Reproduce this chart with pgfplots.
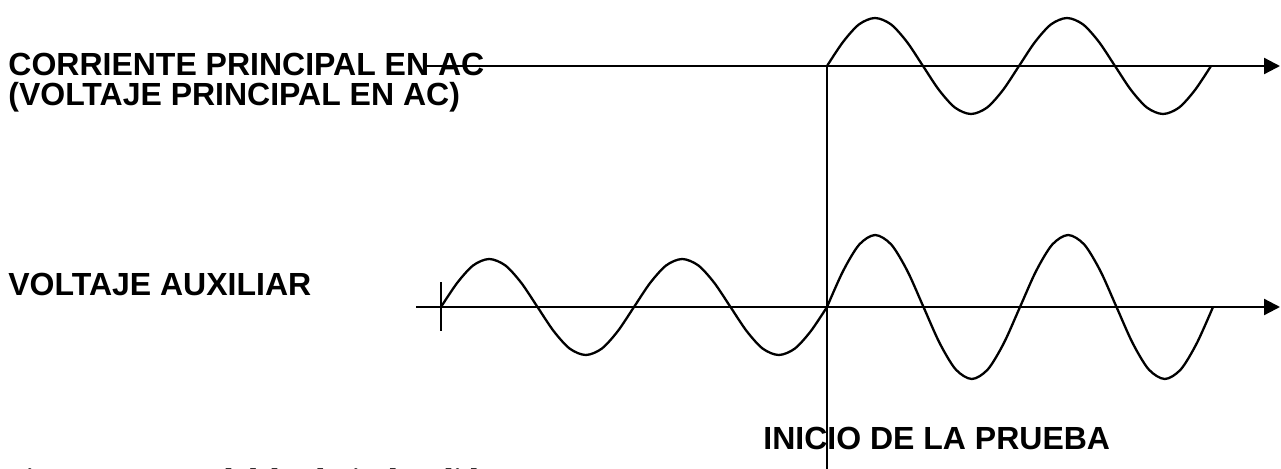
\documentclass[border=0pt]{standalone}
\usepackage{pgfplots}
\pgfplotsset{compat=1.18}
\usetikzlibrary{arrows.meta}
\usepackage{fontspec}
\setmainfont{Liberation Serif}
\setsansfont{Liberation Sans}

% one pixel of the reference = 0.5pt
\begin{document}
\begin{tikzpicture}
\begin{axis}[
    name=ax,
    scale only axis,
    width=640.5pt, height=234pt,
    xmin=0, xmax=1281, ymin=0, ymax=468,
    hide axis,
    clip=false,
    cycle list={{black}},
    every axis plot/.append style={black, line width=1.15pt, no marks},
]
    % time axes
    \addplot[-{Triangle[length=8pt,width=8pt]}] coordinates {(425,402) (1280,402)};
    \addplot[-{Triangle[length=8pt,width=8pt]}] coordinates {(416,161) (1280,161)};
    % start of test
    \addplot coordinates {(827,402) (827,-10)};
    % tick at start of auxiliary voltage
    \addplot coordinates {(441,186) (441,137)};

    % main current / voltage
    \addplot[smooth] coordinates {
        (827,402) (843,426) (859,443.6) (875,450) (891,443.6) (907,426)
        (923,402) (939,378) (955,360.4) (971,354) (987,360.4) (1003,378)
        (1019,402) (1035,426) (1051,443.6) (1067,450) (1083,443.6) (1099,426)
        (1115,402) (1131,378) (1147,360.4) (1163,354) (1179,360.4) (1195,378)
        (1211,402)
    };

    % auxiliary voltage before the test
    \addplot[smooth] coordinates {
        (441,161) (457.1,185) (473.2,202.6) (489.2,209) (505.3,202.6) (521.4,185)
        (537.5,161) (553.6,137) (569.7,119.4) (585.8,113) (601.8,119.4) (617.9,137)
        (634,161) (650.1,185) (666.2,202.6) (682.2,209) (698.3,202.6) (714.4,185)
        (730.5,161) (746.6,137) (762.7,119.4) (778.8,113) (794.8,119.4) (810.9,137)
        (827,161)
    };

    % auxiliary voltage after the test starts
    \addplot[smooth] coordinates {
        (827,161) (843.1,197) (859.2,223.4) (875.2,233) (891.3,223.4) (907.4,197)
        (923.5,161) (939.6,125) (955.7,98.6) (971.8,89) (987.8,98.6) (1003.9,125)
        (1020,161) (1036.1,197) (1052.2,223.4) (1068.2,233) (1084.3,223.4) (1100.4,197)
        (1116.5,161) (1132.6,125) (1148.7,98.6) (1164.8,89) (1180.8,98.6) (1196.9,125)
        (1213,161)
    };

    \begin{scope}[every node/.style={inner sep=0pt, anchor=base west,
            font=\sffamily\bfseries\fontsize{16pt}{19pt}\selectfont}]
        \node at (axis cs:8,393) {CORRIENTE PRINCIPAL EN AC};
        \node at (axis cs:8,363) {(VOLTAJE PRINCIPAL EN AC)};
        \node at (axis cs:8,173) {VOLTAJE AUXILIAR};
        \node at (axis cs:763,19) {INICIO DE LA PRUEBA};
    \end{scope}
    \node[inner sep=0pt, anchor=base west,
          font=\rmfamily\bfseries\fontsize{15pt}{18pt}\selectfont]
        at (axis cs:7,-21) {Figura 1. Control del voltaje de salida};
\end{axis}
\pgfresetboundingbox
\useasboundingbox (ax.south west) rectangle (ax.north east);
\end{tikzpicture}
\end{document}
